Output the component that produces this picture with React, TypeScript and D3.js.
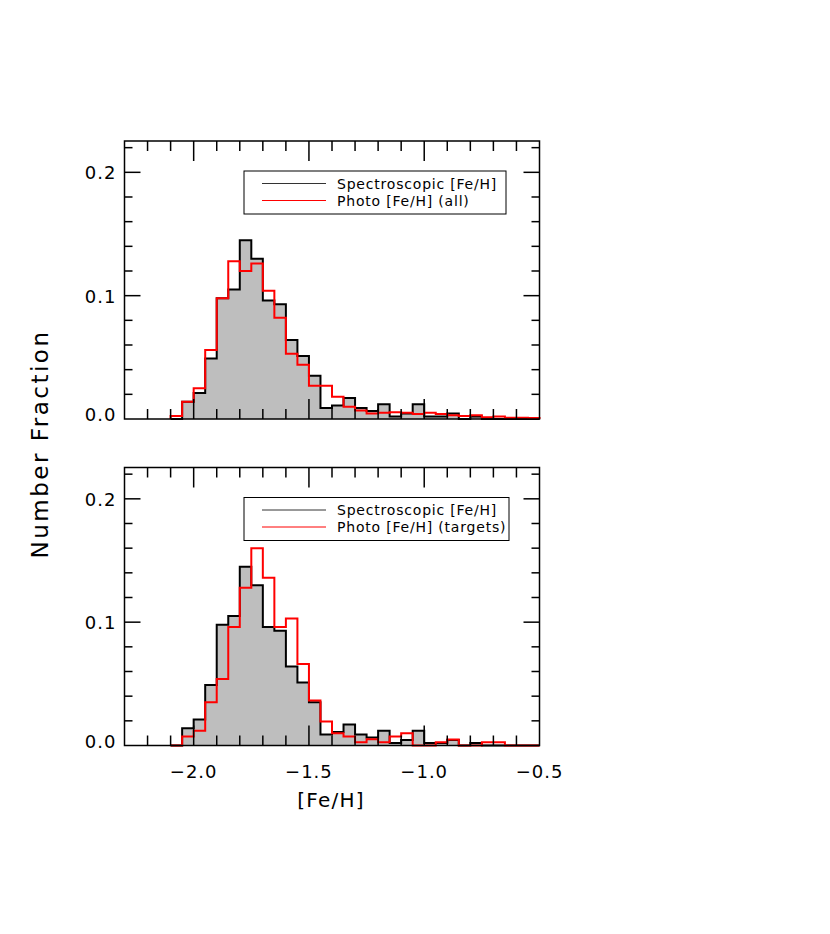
import React, { useEffect, useRef } from 'react';
import * as d3 from 'd3';

// left edges of the 0.05 dex bins
const binStarts = [
  -2.10, -2.05, -2.00, -1.95, -1.90, -1.85, -1.80, -1.75, -1.70, -1.65, -1.60,
  -1.55, -1.50, -1.45, -1.40, -1.35, -1.30, -1.25, -1.20, -1.15, -1.10, -1.05,
  -1.00, -0.95, -0.90, -0.85, -0.80, -0.75, -0.70, -0.65, -0.60, -0.55,
];
const binWidth = 0.05;

// spectroscopic [Fe/H] (same sample in both panels)
const specFrac = [
  0.000, 0.014, 0.021, 0.049, 0.098, 0.105, 0.145, 0.130, 0.096, 0.093, 0.064,
  0.051, 0.035, 0.009, 0.011, 0.017, 0.009, 0.0065, 0.012, 0.002, 0.0045, 0.012,
  0.002, 0.002, 0.0045, 0.000, 0.002, 0.000, 0.000, 0.000, 0.000, 0.000,
];

// photometric [Fe/H], all stars
const photoAllFrac = [
  0.0025, 0.014, 0.025, 0.056, 0.098, 0.128, 0.120, 0.126, 0.104, 0.082, 0.053,
  0.044, 0.027, 0.027, 0.018, 0.010, 0.0068, 0.0045, 0.005, 0.0055, 0.005, 0.004,
  0.005, 0.004, 0.003, 0.0025, 0.003, 0.0015, 0.002, 0.001, 0.001, 0.0008,
];

// photometric [Fe/H], spectroscopic targets
const photoTargetFrac = [
  0.000, 0.0073, 0.012, 0.035, 0.054, 0.096, 0.128, 0.160, 0.136, 0.096, 0.103,
  0.066, 0.0365, 0.0195, 0.010, 0.0073, 0.0027, 0.005, 0.0027, 0.0073, 0.010, 0.000,
  0.000, 0.0027, 0.0049, 0.000, 0.000, 0.0027, 0.0027, 0.000, 0.000, 0.000,
];

const xMajorTicks = [-2.0, -1.5, -1.0, -0.5];
const xTickLabels = ['\u22122.0', '\u22121.5', '\u22121.0', '\u22120.5'];
const yMajorTicks = [0.0, 0.1, 0.2];
const yTickLabels = ['0.0', '0.1', '0.2'];
const legendSpec = 'Spectroscopic [Fe/H]';
const legendPhoto = ['Photo [Fe/H] (all)', 'Photo [Fe/H] (targets)'];

const FONT = '"DejaVu Sans", Verdana, sans-serif';

const App = () => {
  const svgRef = useRef<SVGSVGElement>(null);

  useEffect(() => {
    const width = 830;
    const height = 934;
    const left = 124.5;
    const right = 539.5;
    const panelH = 278;
    const panels = [
      { top: 141, photo: photoAllFrac, label: legendPhoto[0], legendW: 262 },
      { top: 467.5, photo: photoTargetFrac, label: legendPhoto[1], legendW: 265 },
    ];

    const svg = d3.select(svgRef.current)
      .attr('width', width)
      .attr('height', height);
    svg.selectAll('*').remove();

    const xScale = d3.scaleLinear().domain([-2.3, -0.5]).range([left, right]);
    const xMinor = d3.range(-2.2, -0.55, 0.1);
    const yMinor = d3.range(0.02, 0.221, 0.02);

    // step outline: starts and ends on zero
    const stepPoints = (vals: number[]) => {
      const pts: [number, number][] = [[binStarts[0], 0]];
      vals.forEach((v, i) => {
        pts.push([binStarts[i], v]);
        pts.push([binStarts[i] + binWidth, v]);
      });
      pts.push([binStarts[binStarts.length - 1] + binWidth, 0]);
      return pts;
    };

    panels.forEach((p, pi) => {
      const yScale = d3.scaleLinear().domain([0, 0.2254]).range([p.top + panelH, p.top]);
      const g = svg.append('g');

      const line = d3.line<[number, number]>()
        .x(d => xScale(d[0]))
        .y(d => yScale(d[1]));

      const area = d3.area<[number, number]>()
        .x(d => xScale(d[0]))
        .y0(yScale(0))
        .y1(d => yScale(d[1]));

      const specPts = stepPoints(specFrac);
      g.append('path').attr('d', area(specPts)).attr('fill', '#bebebe');
      g.append('path').attr('d', line(specPts))
        .attr('fill', 'none').attr('stroke', '#000').attr('stroke-width', 2);
      g.append('path').attr('d', line(stepPoints(p.photo)))
        .attr('fill', 'none').attr('stroke', '#ff0000').attr('stroke-width', 2);

      // frame
      g.append('rect')
        .attr('x', left).attr('y', p.top)
        .attr('width', right - left).attr('height', panelH)
        .attr('fill', 'none').attr('stroke', '#000').attr('stroke-width', 1.5);

      // x ticks (bottom and top, inward)
      const bottom = p.top + panelH;
      xMinor.forEach(v => {
        const isMajor = xMajorTicks.some(m => Math.abs(m - v) < 1e-6);
        const len = isMajor ? 20 : 10;
        const x = xScale(v);
        g.append('line').attr('x1', x).attr('x2', x).attr('y1', bottom).attr('y2', bottom - len)
          .attr('stroke', '#000').attr('stroke-width', 1.5);
        g.append('line').attr('x1', x).attr('x2', x).attr('y1', p.top).attr('y2', p.top + len)
          .attr('stroke', '#000').attr('stroke-width', 1.5);
      });

      // y ticks (left and right, inward)
      yMinor.forEach(v => {
        const isMajor = yMajorTicks.some(m => Math.abs(m - v) < 1e-6);
        const len = isMajor ? 16 : 8;
        const y = yScale(v);
        g.append('line').attr('x1', left).attr('x2', left + len).attr('y1', y).attr('y2', y)
          .attr('stroke', '#000').attr('stroke-width', 1.5);
        g.append('line').attr('x1', right).attr('x2', right - len).attr('y1', y).attr('y2', y)
          .attr('stroke', '#000').attr('stroke-width', 1.5);
      });

      // y tick labels
      yMajorTicks.forEach((v, i) => {
        g.append('text')
          .attr('x', left - 8)
          .attr('y', yScale(v) + (v === 0 ? 2 : 7))
          .attr('text-anchor', 'end')
          .attr('font-family', FONT)
          .attr('font-size', 18)
          .attr('letter-spacing', 1)
          .text(yTickLabels[i]);
      });

      // x tick labels only under the lower panel
      if (pi === panels.length - 1) {
        xMajorTicks.forEach((v, i) => {
          g.append('text')
            .attr('x', xScale(v))
            .attr('y', bottom + 32)
            .attr('text-anchor', 'middle')
            .attr('font-family', FONT)
            .attr('font-size', 18)
            .attr('letter-spacing', 1)
            .text(xTickLabels[i]);
        });
      }

      // legend
      const lx = 244;
      const ly = p.top + 30;
      const lg = g.append('g');
      lg.append('rect')
        .attr('x', lx).attr('y', ly)
        .attr('width', p.legendW).attr('height', 43)
        .attr('fill', '#fff').attr('stroke', '#000').attr('stroke-width', 1);
      [
        { text: legendSpec, color: '#333', dy: 12.5 },
        { text: p.label, color: '#ff0000', dy: 29.5 },
      ].forEach(item => {
        lg.append('line')
          .attr('x1', lx + 18).attr('x2', lx + 82)
          .attr('y1', ly + item.dy).attr('y2', ly + item.dy)
          .attr('stroke', item.color).attr('stroke-width', 1);
        lg.append('text')
          .attr('x', lx + 93)
          .attr('y', ly + item.dy + 5)
          .attr('font-family', FONT)
          .attr('font-size', 14)
          .attr('letter-spacing', 0.8)
          .text(item.text);
      });
    });

    // axis titles
    svg.append('text')
      .attr('x', (left + right) / 2 - 1)
      .attr('y', 807)
      .attr('text-anchor', 'middle')
      .attr('font-family', FONT)
      .attr('font-size', 20)
      .attr('letter-spacing', 1.2)
      .text('[Fe/H]');

    svg.append('text')
      .attr('transform', 'translate(48, 444) rotate(-90)')
      .attr('text-anchor', 'middle')
      .attr('font-family', FONT)
      .attr('font-size', 23)
      .attr('letter-spacing', 2.5)
      .text('Number Fraction');
  }, []);

  return (
    <svg
      ref={svgRef}
      style={{ position: 'absolute', left: 0, top: 0, background: '#fff' }}
    />
  );
};

export default App;
